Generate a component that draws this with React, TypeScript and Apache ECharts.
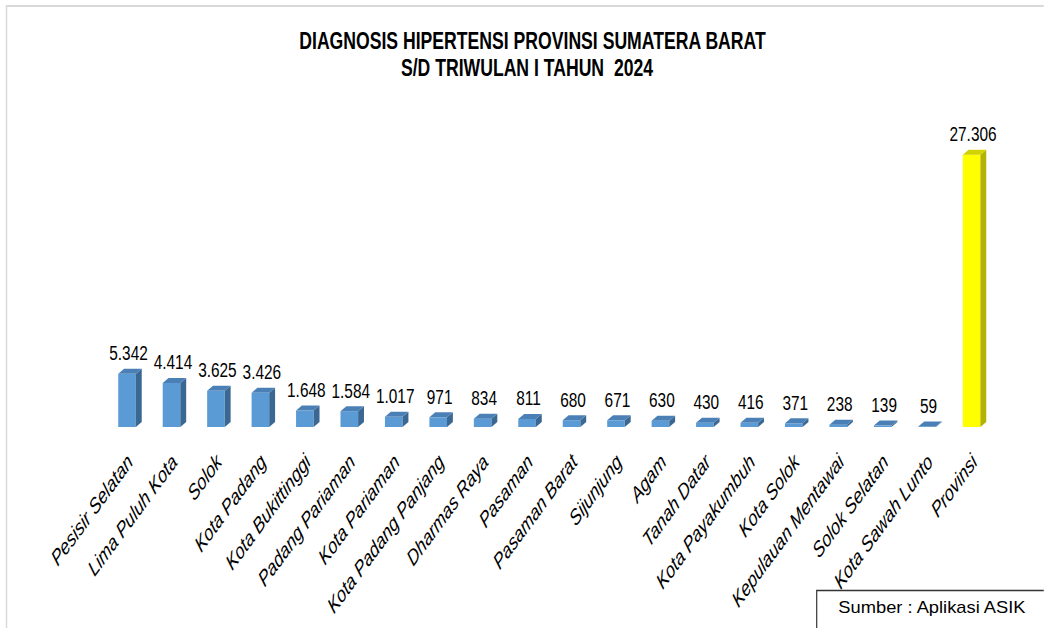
import React, { useEffect, useRef } from "react";
import * as echarts from "echarts";

const categories = [
  "Pesisir Selatan",
  "Lima Puluh Kota",
  "Solok",
  "Kota Padang",
  "Kota Bukittinggi",
  "Padang Pariaman",
  "Kota Pariaman",
  "Kota Padang Panjang",
  "Dharmas Raya",
  "Pasaman",
  "Pasaman Barat",
  "Sijunjung",
  "Agam",
  "Tanah Datar",
  "Kota Payakumbuh",
  "Kota Solok",
  "Kepulauan Mentawai",
  "Solok Selatan",
  "Kota Sawah Lunto",
  "Provinsi",
];
const values = [5342, 4414, 3625, 3426, 1648, 1584, 1017, 971, 834, 811, 680, 671, 630, 430, 416, 371, 238, 139, 59, 27306];
const titleLines = ["DIAGNOSIS HIPERTENSI PROVINSI SUMATERA BARAT", "S/D TRIWULAN I TAHUN  2024"];
const sourceText = "Sumber : Aplikasi ASIK";
const highlightCategory = "Provinsi";

const SQUASH = 0.734;
const VIEW_W = 1044;
const VIEW_H = 628;
const CHART_W = Math.round(VIEW_W / SQUASH);
const FONT = "'Liberation Sans', Arial, Helvetica, sans-serif";

const BLUE = { front: "#5b9bd5", top: "#4b80b6", side: "#3b6893" };
const YELLOW = { front: "#ffff00", top: "#d2d200", side: "#b3b300" };

const fmt = (v: number) => String(v).replace(/\B(?=(\d{3})+(?!\d))/g, ".");
const ux = (x: number) => x / SQUASH;

export default function App() {
  const ref = useRef<HTMLDivElement | null>(null);

  useEffect(() => {
    if (!ref.current) return;
    const chart = echarts.init(ref.current, null, { renderer: "svg", width: CHART_W, height: VIEW_H });
    chart.setOption({
      animation: false,
      backgroundColor: "#ffffff",
      grid: { left: ux(130) - ux(22.23), right: CHART_W - (ux(974.5) + ux(22.23)), top: 128, bottom: VIEW_H - 427, containLabel: false },
      xAxis: {
        type: "category",
        data: categories,
        axisLine: { show: false },
        axisTick: { show: false },
        splitLine: { show: false },
        axisLabel: {
          interval: 0,
          rotate: 45,
          margin: 31,
          fontSize: 22,
          fontStyle: "italic",
          fontFamily: FONT,
          color: "#000000",
        },
      },
      yAxis: { type: "value", min: 0, max: 30000, show: false, splitLine: { show: false } },
      graphic: [
        {
          type: "rect",
          z: 0,
          silent: true,
          shape: { x: ux(6.5), y: 6, width: 3000, height: 1000 },
          style: { fill: "none", stroke: "#d9d9d9", lineWidth: 2 },
        },
        {
          type: "text",
          z: 10,
          style: {
            text: titleLines[0],
            x: ux(532.5),
            y: 40,
            textAlign: "center",
            textVerticalAlign: "middle",
            align: "center",
            verticalAlign: "middle",
            fontSize: 24,
            fontWeight: "bold",
            fontFamily: FONT,
            fill: "#000000",
          },
        },
        {
          type: "text",
          z: 10,
          style: {
            text: titleLines[1],
            x: ux(527),
            y: 67,
            textAlign: "center",
            textVerticalAlign: "middle",
            align: "center",
            verticalAlign: "middle",
            fontSize: 24,
            fontWeight: "bold",
            fontFamily: FONT,
            fill: "#000000",
          },
        },
        {
          type: "rect",
          z: 20,
          shape: { x: ux(816.7), y: 590.5, width: 800, height: 200 },
          style: { fill: "#ffffff", stroke: "#333333", lineWidth: 1.6 },
        },
        {
          type: "text",
          z: 21,
          x: ux(838.3),
          y: 607.5,
          scaleX: 1.56,
          style: {
            text: sourceText,
            x: 0,
            y: 0,
            textAlign: "left",
            textVerticalAlign: "middle",
            align: "left",
            verticalAlign: "middle",
            fontSize: 16,
            fontFamily: FONT,
            fill: "#000000",
          },
        },
      ],
      series: [
        {
          type: "custom",
          data: values.map((v, i) => [i, v]),
          renderItem: (params: any, api: any) => {
            const idx = api.value(0);
            const val = api.value(1);
            const top = api.coord([idx, val]);
            const base = api.coord([idx, 0]);
            const c = top[0];
            const yT = top[1];
            const yB = base[1];
            const col = categories[idx] === highlightCategory ? YELLOW : BLUE;
            return {
              type: "group",
              children: [
                { type: "rect", shape: { x: c - 16, y: yT, width: 24, height: Math.max(0, yB - yT) }, style: { fill: col.front } },
                {
                  type: "polygon",
                  shape: { points: [[c + 8, yT], [c + 16, yT - 5], [c + 16, yB - 5], [c + 8, yB]] },
                  style: { fill: col.side },
                },
                {
                  type: "polygon",
                  shape: { points: [[c - 16, yT], [c - 8, yT - 5], [c + 16, yT - 5], [c + 8, yT]] },
                  style: { fill: col.top },
                },
                {
                  type: "text",
                  style: {
                    text: fmt(val),
                    x: c - 2,
                    y: yT - 21,
                    align: "center",
                    verticalAlign: "middle",
                    fontSize: 21,
                    fontFamily: FONT,
                    fill: "#000000",
                  },
                },
              ],
            };
          },
        },
      ],
    });
    return () => chart.dispose();
  }, []);

  return (
    <div
      style={{
        position: "fixed",
        left: 0,
        top: 0,
        width: VIEW_W,
        height: VIEW_H,
        overflow: "hidden",
        background: "#ffffff",
      }}
    >
      <div
        ref={ref}
        style={{ width: CHART_W, height: VIEW_H, transform: `scaleX(${SQUASH})`, transformOrigin: "0 0" }}
      />
    </div>
  );
}
